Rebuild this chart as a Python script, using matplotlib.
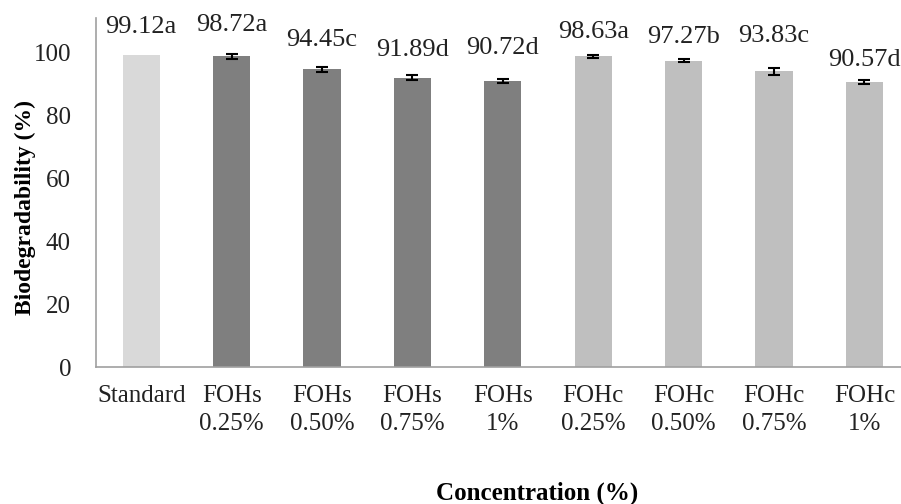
import numpy as np
import matplotlib.pyplot as plt

categories = ["Standard", "FOHs\n0.25%", "FOHs\n0.50%", "FOHs\n0.75%", "FOHs\n1%",
              "FOHc\n0.25%", "FOHc\n0.50%", "FOHc\n0.75%", "FOHc\n1%"]
values = [99.12, 98.72, 94.45, 91.89, 90.72, 98.63, 97.27, 93.83, 90.57]
errors = [0.0, 0.8, 0.9, 0.8, 0.7, 0.4, 0.5, 1.2, 0.7]
letters = ["a", "a", "c", "d", "d", "a", "b", "c", "d"]
label_y = [107.9, 108.6, 103.8, 100.6, 101.3, 106.3, 104.8, 105.1, 97.5]

colors = ["#d9d9d9"] + ["#7f7f7f"] * 4 + ["#bfbfbf"] * 4

plt.rcParams["font.family"] = "Liberation Serif"

fig = plt.figure(figsize=(9.01, 5.04), dpi=100)
ax = fig.add_axes([96 / 901, 137 / 504, 813.6 / 901, 349 / 504])

x = np.arange(len(values))
ax.bar(x, values, width=0.41, color=colors)
err_idx = [i for i in x if errors[i] > 0]
ax.errorbar([x[i] for i in err_idx], [values[i] for i in err_idx],
            yerr=[errors[i] for i in err_idx], fmt="none", ecolor="black",
            elinewidth=1.5, capsize=4, capthick=1.5)

for i in x:
    ax.text(x[i], label_y[i], f"{values[i]:.2f}{letters[i]}", ha="center", va="center",
            fontsize=19, color="#222222")

ax.set_xlim(-0.5, len(values) - 0.5)
ax.set_ylim(0, 110.8)
ax.set_yticks([0, 20, 40, 60, 80, 100])
ax.set_xticks(x)
ax.set_xticklabels(categories, linespacing=1.35)
ax.tick_params(axis="both", length=0, labelsize=18, colors="#222222")
ax.tick_params(axis="y", pad=18)
ax.tick_params(axis="x", pad=13)

for s in ["top", "right"]:
    ax.spines[s].set_visible(False)
ax.spines["left"].set_color("#a0a0a0")
ax.spines["bottom"].set_color("#a0a0a0")
ax.spines["left"].set_linewidth(1.2)
ax.spines["bottom"].set_linewidth(1.2)

ax.set_ylabel("Biodegradability (%)", fontsize=17, fontweight="bold", va="center")
ax.yaxis.set_label_coords(-0.087, 0.456)
fig.text(537 / 901, 1 - 493 / 504, "Concentration (%)", ha="center", va="center",
         fontsize=18, fontweight="bold")

fig.savefig("out.png", dpi=100)
